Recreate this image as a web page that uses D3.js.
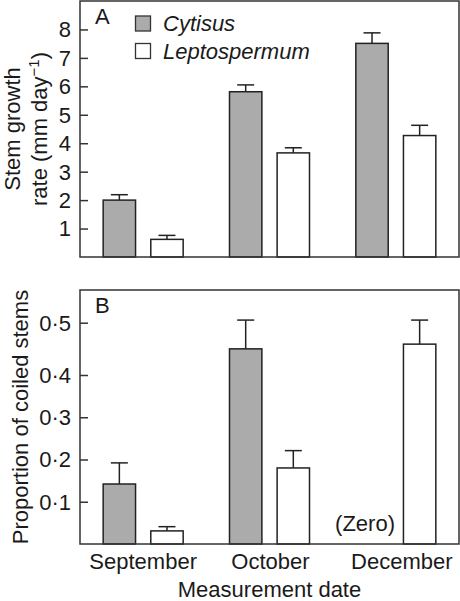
<!DOCTYPE html>
<html><head><meta charset="utf-8">
<script src="https://cdn.jsdelivr.net/npm/d3@7"></script>
<style>
html,body{margin:0;padding:0;background:#fff;}
svg text{font-family:"Liberation Sans",Arial,Helvetica,sans-serif;fill:#1a1a1a;}
</style></head>
<body>
<svg id="c" width="460" height="601"></svg>
<script>
// ---- data ----
const months = ["September", "October", "December"];
const series = ["Cytisus", "Leptospermum"];
// Panel A: stem growth rate (mm day^-1)
const growthCytisus = [2.0, 5.81, 7.51];
const growthCytisusErr = [2.19, 6.05, 7.88];   // top of error bar
const growthLepto = [0.62, 3.66, 4.27];
const growthLeptoErr = [0.76, 3.84, 4.63];
// Panel B: proportion of coiled stems
const coiledCytisus = [0.142, 0.45, 0];
const coiledCytisusErr = [0.192, 0.505, 0];
const coiledLepto = [0.031, 0.18, 0.459];
const coiledLeptoErr = [0.041, 0.221, 0.505];
const ticksA = [1, 2, 3, 4, 5, 6, 7, 8];
const ticksB = [0.1, 0.2, 0.3, 0.4, 0.5];

const fills = {Cytisus: "#ababab", Leptospermum: "#ffffff"};
const FS = 22;

const svg = d3.select("#c");
const L = 80, R = 459;

const x0 = d3.scaleBand().domain(months).range([L, R]).padding(0);
function innerScale(m) {
  const c = x0(m) + x0.bandwidth() / 2;
  return d3.scaleBand().domain(series).range([c - 40, c + 40]).paddingInner(0.32);
}

function panel(opts) {
  const {top, bottom, y, ticks, fmt, label} = opts;
  const g = svg.append("g");
  months.forEach((m, i) => {
    const xi = innerScale(m);
    opts.data.forEach(d => {
      const v = d.vals[i], e = d.errs[i];
      if (v <= 0) return;
      const bx = xi(d.s), bw = xi.bandwidth(), cx = bx + bw / 2;
      g.append("line").attr("x1", cx).attr("x2", cx).attr("y1", y(v)).attr("y2", y(e))
        .attr("stroke", "#222").attr("stroke-width", 1.5);
      g.append("line").attr("x1", cx - 8.5).attr("x2", cx + 8.5).attr("y1", y(e)).attr("y2", y(e))
        .attr("stroke", "#222").attr("stroke-width", 1.5);
      g.append("rect").attr("x", bx).attr("y", y(v)).attr("width", bw).attr("height", y(0) - y(v))
        .attr("fill", fills[d.s]).attr("stroke", "#222").attr("stroke-width", 1.5);
    });
  });
  g.append("rect").attr("x", L).attr("y", top).attr("width", R - L).attr("height", bottom - top)
    .attr("fill", "none").attr("stroke", "#333").attr("stroke-width", 1.5);
  const ax = d3.axisRight(y).tickValues(ticks).tickSize(8).tickFormat("");
  const axg = g.append("g").attr("transform", `translate(${L},0)`).call(ax);
  axg.select(".domain").remove();
  axg.selectAll("line").attr("stroke", "#333").attr("stroke-width", 1.5);
  g.selectAll(".tl" + label).data(ticks).enter().append("text")
    .attr("x", L - 9).attr("y", d => y(d)).attr("dy", "0.36em")
    .attr("text-anchor", "end").attr("font-size", FS).text(fmt);
  g.append("text").attr("x", 95).attr("y", top + 22.5).attr("font-size", FS).text(label);
  return g;
}

// Panel A
const yA = d3.scaleLinear().domain([0, 9]).range([257, 1]);
panel({top: 1, bottom: 257, y: yA, ticks: ticksA, fmt: d => d, label: "A",
  data: [{s: "Cytisus", vals: growthCytisus, errs: growthCytisusErr},
         {s: "Leptospermum", vals: growthLepto, errs: growthLeptoErr}]});

// Panel B (axis as drawn: 0.5 tick spaced wider than the rest)
const yB = d3.scaleLinear().domain([0, 0.4, 0.5]).range([544, 375, 322.7]);
panel({top: 290, bottom: 544, y: yB, ticks: ticksB, fmt: d => d3.format(".1f")(d).replace(".", "\u00b7"), label: "B",
  data: [{s: "Cytisus", vals: coiledCytisus, errs: coiledCytisusErr},
         {s: "Leptospermum", vals: coiledLepto, errs: coiledLeptoErr}]});

// (Zero) note
{
  const xi = innerScale("December");
  svg.append("text").attr("x", xi("Cytisus") + xi.bandwidth() / 2 - 7).attr("y", 531)
    .attr("text-anchor", "middle").attr("font-size", FS).text("(Zero)");
}

// legend
series.forEach((s, i) => {
  const by = 31 + i * 27.5;
  svg.append("rect").attr("x", 135.5).attr("y", by - 15).attr("width", 15).attr("height", 15)
    .attr("fill", fills[s]).attr("stroke", "#333").attr("stroke-width", 1.3);
  svg.append("text").attr("x", 163).attr("y", by).attr("font-size", FS)
    .attr("font-style", "italic").text(s);
});

// x labels
const monthNudge = [0, 1, 6];
months.forEach((m, i) => {
  svg.append("text").attr("x", x0(m) + x0.bandwidth() / 2 + monthNudge[i]).attr("y", 569)
    .attr("text-anchor", "middle").attr("font-size", FS).text(m);
});
svg.append("text").attr("x", (L + R) / 2).attr("y", 597).attr("text-anchor", "middle")
  .attr("font-size", FS).text("Measurement date");

// y titles
const cyA = (1 + 257) / 2;
svg.append("text").attr("transform", `translate(19.5,${cyA}) rotate(-90)`)
  .attr("text-anchor", "middle").attr("font-size", FS).text("Stem growth");
const t2 = svg.append("text").attr("transform", `translate(47,${cyA}) rotate(-90)`)
  .attr("text-anchor", "middle").attr("font-size", FS);
t2.append("tspan").text("rate (mm day");
t2.append("tspan").attr("font-size", 15).attr("dy", -8).text("\u22121");
t2.append("tspan").attr("dy", 8).text(")");
svg.append("text").attr("transform", `translate(28,${(290 + 544) / 2}) rotate(-90)`)
  .attr("text-anchor", "middle").attr("font-size", FS).text("Proportion of coiled stems");
</script>
</body></html>
